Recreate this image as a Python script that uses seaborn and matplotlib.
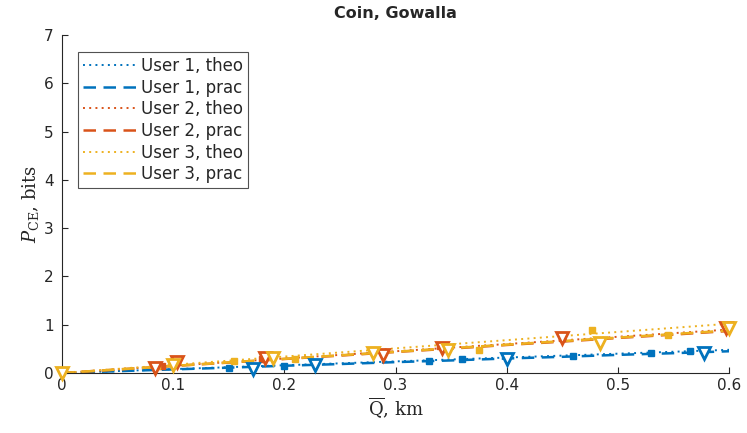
import numpy as np
import pandas as pd
import matplotlib
matplotlib.use("Agg")
import matplotlib.pyplot as plt
import seaborn as sns

sns.set_theme(style="white")
plt.rcParams["font.family"] = ["DejaVu Sans"]
plt.rcParams["mathtext.fontset"] = "dejavuserif"

# Curve samples (distance Q in km)
q_grid = [0.0, 0.05, 0.10, 0.15, 0.20, 0.25, 0.30, 0.35, 0.40, 0.45, 0.50, 0.55, 0.60]
u1_theo = [0.0, 0.04, 0.08, 0.12, 0.16, 0.20, 0.24, 0.28, 0.32, 0.36, 0.40, 0.44, 0.48]
u1_prac = [0.0, 0.037, 0.074, 0.11, 0.15, 0.185, 0.225, 0.26, 0.30, 0.335, 0.375, 0.41, 0.45]
u2_theo = [0.0, 0.075, 0.15, 0.225, 0.30, 0.375, 0.45, 0.525, 0.60, 0.675, 0.75, 0.825, 0.90]
u2_prac = [0.0, 0.072, 0.145, 0.215, 0.29, 0.36, 0.435, 0.505, 0.58, 0.65, 0.725, 0.795, 0.87]
u3_theo = [0.0, 0.085, 0.17, 0.255, 0.34, 0.425, 0.51, 0.595, 0.68, 0.765, 0.85, 0.935, 1.02]
u3_prac = [0.0, 0.073, 0.146, 0.22, 0.293, 0.366, 0.44, 0.513, 0.586, 0.66, 0.733, 0.806, 0.88]

# Measured points (triangles)
u1_tri_q = [0.172, 0.228, 0.40, 0.577]
u1_tri_p = [0.08, 0.16, 0.28, 0.42]
u2_tri_q = [0.084, 0.103, 0.183, 0.289, 0.342, 0.45, 0.597]
u2_tri_p = [0.10, 0.22, 0.32, 0.37, 0.52, 0.72, 0.93]
u3_tri_q = [0.0, 0.10, 0.19, 0.28, 0.347, 0.484, 0.60]
u3_tri_p = [0.0, 0.16, 0.31, 0.41, 0.48, 0.62, 0.93]

# Measured points (squares)
u1_sq_q = [0.15, 0.20, 0.33, 0.36, 0.46, 0.53, 0.565]
u1_sq_p = [0.10, 0.15, 0.25, 0.29, 0.35, 0.42, 0.45]
u2_sq_q = [0.09, 0.18, 0.34, 0.45]
u2_sq_p = [0.14, 0.30, 0.55, 0.73]
u3_sq_q = [0.085, 0.155, 0.21, 0.28, 0.375, 0.477, 0.545]
u3_sq_p = [0.15, 0.25, 0.30, 0.47, 0.47, 0.90, 0.78]

colors = ["#0072BD", "#D95319", "#EDB120"]

fig = plt.figure(figsize=(7.47, 4.33), dpi=100)
ax = fig.add_axes([0.083, 0.1386, 0.893, 0.7806])

series = [
    (u1_theo, u1_prac, u1_tri_q, u1_tri_p, u1_sq_q, u1_sq_p),
    (u2_theo, u2_prac, u2_tri_q, u2_tri_p, u2_sq_q, u2_sq_p),
    (u3_theo, u3_prac, u3_tri_q, u3_tri_p, u3_sq_q, u3_sq_p),
]

for i, (theo, prac, tq, tp, sq, sp) in enumerate(series):
    c = colors[i]
    sns.lineplot(x=q_grid, y=theo, ax=ax, color=c, linestyle=(0, (1, 2.2)),
                 linewidth=1.4, label=f"User {i+1}, theo")
    sns.lineplot(x=q_grid, y=prac, ax=ax, color=c, linestyle=(0, (5, 3)),
                 linewidth=1.8, label=f"User {i+1}, prac")
    ax.plot(sq, sp, linestyle="none", marker="s", markersize=5,
            color=c, zorder=3)
    ax.plot(tq, tp, linestyle="none", marker="v", markersize=8,
            markerfacecolor="white", markeredgecolor=c, markeredgewidth=2.0,
            zorder=4, clip_on=False)

ax.set_xlim(0, 0.6)
ax.set_ylim(0, 7)
ax.set_xticks([0, 0.1, 0.2, 0.3, 0.4, 0.5, 0.6])
ax.set_xticklabels(["0", "0.1", "0.2", "0.3", "0.4", "0.5", "0.6"])
ax.set_yticks(range(8))
ax.tick_params(direction="in", length=4, width=0.8, labelsize=11,
               colors="#262626", left=True, bottom=True)
ax.tick_params(axis="y", pad=6)
for side in ("top", "right"):
    ax.spines[side].set_visible(False)
for side in ("left", "bottom"):
    ax.spines[side].set_color("#262626")
    ax.spines[side].set_linewidth(0.8)

ax.set_title("Coin, Gowalla", fontsize=11.5, fontweight="bold", pad=12)
ax.set_xlabel(r"$\overline{\mathrm{Q}}$, $\mathrm{km}$", fontsize=13,
              labelpad=2, family="DejaVu Serif")
ax.set_ylabel(r"$P_{\mathrm{CE}}$, $\mathrm{bits}$", fontsize=13,
              labelpad=2, family="DejaVu Serif")

leg = ax.legend(loc="upper left", bbox_to_anchor=(0.024, 0.95), fontsize=12,
                frameon=True, fancybox=False, handlelength=3.3,
                handletextpad=0.2, borderpad=0.3, labelspacing=0.22,
                borderaxespad=0.0)
leg.get_frame().set_edgecolor("#262626")
leg.get_frame().set_linewidth(0.8)

fig.savefig("out.png", dpi=100)
